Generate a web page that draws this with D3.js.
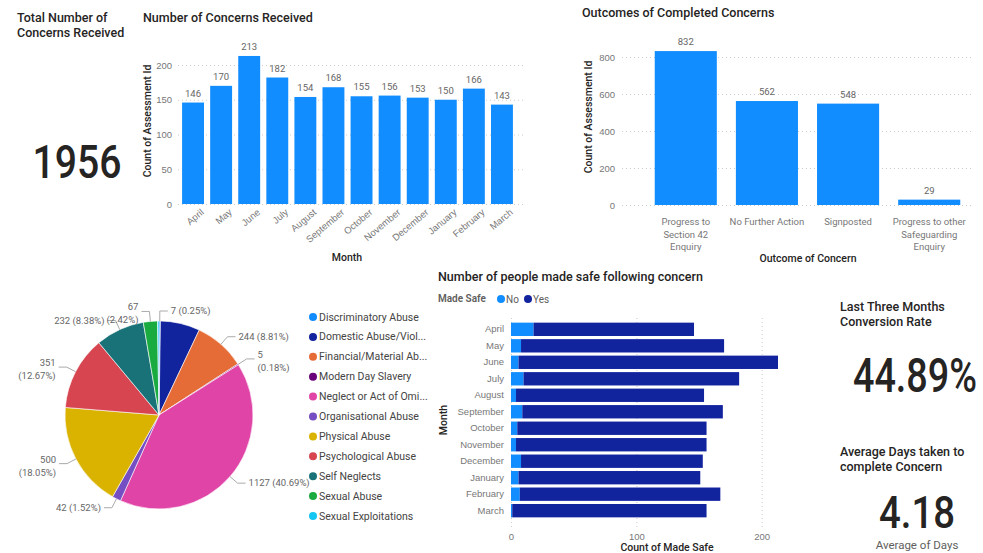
<!DOCTYPE html>
<html>
<head>
<meta charset="utf-8">
<script src="https://cdn.jsdelivr.net/npm/d3@7"></script>
<style>
  body { margin: 0; background: #fff; }
  svg { font-family: Roboto, "Open Sans", sans-serif; }
  .title { font-size: 12.5px; font-weight: 500; fill: #252423; }
  .tick text { fill: #777; font-size: 9.5px; }
  .axisTitle { font-size: 10.5px; font-weight: 500; fill: #252423; }
  .big { font-weight: 500; fill: #252423; }
</style>
</head>
<body>
<script>
// --- data ---
const months = ['April','May','June','July','August','September','October','November','December','January','February','March'];
const concerns = [146, 170, 213, 182, 154, 168, 155, 156, 153, 150, 166, 143];

const outcomes = ['Progress to Section 42 Enquiry', 'No Further Action', 'Signposted', 'Progress to other Safeguarding Enquiry'];
const outcomeLines = [['Progress to', 'Section 42', 'Enquiry'], ['No Further Action'], ['Signposted'], ['Progress to other', 'Safeguarding', 'Enquiry']];
const outcomeCounts = [832, 562, 548, 29];

const abuseTypes = ['Discriminatory Abuse','Domestic Abuse/Violence','Financial/Material Abuse','Modern Day Slavery','Neglect or Act of Omission','Organisational Abuse','Physical Abuse','Psychological Abuse','Self Neglects','Sexual Abuse','Sexual Exploitations'];
const abuseCounts = [7, 188, 244, 5, 1127, 42, 500, 351, 232, 67, 7];
const abuseColors = ['#118DFF','#12239E','#E66C37','#6B007B','#E044A7','#744EC2','#D9B300','#D64550','#197278','#1AAB40','#15C6F4'];
const abuseLabelShown = [true, false, true, true, true, true, true, true, true, true, false];

const safeNo  = [18, 8, 6, 10, 4, 9, 5, 4, 8, 6, 7, 1];
const safeYes = [128, 162, 207, 172, 150, 160, 151, 152, 145, 145, 160, 155];

const totalConcerns = '1956';
const conversionRate = '44.89%';
const avgDays = '4.18';

const svg = d3.select('body').append('svg').attr('width', 983).attr('height', 553);

// --- KPI cards ---
svg.append('text').attr('class', 'title').attr('x', 17).attr('y', 22).text('Total Number of');
svg.append('text').attr('class', 'title').attr('x', 17).attr('y', 37).text('Concerns Received');
svg.append('text').attr('class', 'big').attr('x', 77).attr('y', 178).attr('text-anchor', 'middle')
  .attr('textLength', 89).attr('lengthAdjust', 'spacingAndGlyphs')
  .style('font-size', '46px').text(totalConcerns);

svg.append('text').attr('class', 'title').attr('x', 840).attr('y', 311).text('Last Three Months');
svg.append('text').attr('class', 'title').attr('x', 840).attr('y', 326).text('Conversion Rate');
svg.append('text').attr('class', 'big').attr('x', 853).attr('y', 392)
  .attr('textLength', 124).attr('lengthAdjust', 'spacingAndGlyphs')
  .style('font-size', '48px').text(conversionRate);

svg.append('text').attr('class', 'title').attr('x', 840).attr('y', 456).text('Average Days taken to');
svg.append('text').attr('class', 'title').attr('x', 840).attr('y', 471).text('complete Concern');
svg.append('text').attr('class', 'big').attr('x', 917).attr('y', 528).attr('text-anchor', 'middle')
  .attr('textLength', 76).attr('lengthAdjust', 'spacingAndGlyphs')
  .style('font-size', '44px').text(avgDays);
svg.append('text').attr('x', 917).attr('y', 549).attr('text-anchor', 'middle')
  .style('font-size', '11.5px').style('fill', '#605E5C').text('Average of Days');

// --- Number of Concerns Received ---
svg.append('text').attr('class', 'title').attr('x', 143).attr('y', 22).text('Number of Concerns Received');

const x1 = d3.scaleBand().domain(months).range([179, 516]).paddingInner(0.22).paddingOuter(0.11);
const y1 = d3.scaleLinear().domain([0, 200]).range([204, 65]);

const g1y = svg.append('g').attr('transform', 'translate(178,0)')
  .call(d3.axisLeft(y1).tickValues([0, 50, 100, 150, 200]).tickSize(-345).tickPadding(6));
g1y.select('.domain').remove();
g1y.selectAll('.tick line').attr('stroke', '#ccc').attr('stroke-dasharray', '1,3');

svg.append('g').selectAll('rect').data(months).join('rect')
  .attr('x', d => x1(d)).attr('width', x1.bandwidth())
  .attr('y', (d, i) => y1(concerns[i])).attr('height', (d, i) => y1(0) - y1(concerns[i]))
  .attr('fill', '#118DFF');

svg.append('g').selectAll('text').data(months).join('text')
  .attr('x', d => x1(d) + x1.bandwidth() / 2).attr('y', (d, i) => y1(concerns[i]) - 6)
  .attr('text-anchor', 'middle').style('font-size', '9.5px').style('fill', '#666')
  .text((d, i) => concerns[i]);

const g1x = svg.append('g').attr('transform', 'translate(0,204)')
  .call(d3.axisBottom(x1).tickSize(0).tickPadding(6));
g1x.select('.domain').remove();
g1x.selectAll('text').attr('text-anchor', 'end')
  .attr('transform', 'rotate(-40)').attr('dx', '0.3em').attr('dy', '0.9em');

svg.append('text').attr('class', 'axisTitle').attr('x', 347).attr('y', 261).attr('text-anchor', 'middle').text('Month');
svg.append('text').attr('class', 'axisTitle').attr('text-anchor', 'middle')
  .attr('transform', 'translate(151,121) rotate(-90)').text('Count of Assessment Id');

// --- Outcomes of Completed Concerns ---
svg.append('text').attr('class', 'title').attr('x', 582).attr('y', 17).text('Outcomes of Completed Concerns');

const x2 = d3.scaleBand().domain(outcomes).range([645, 970]).paddingInner(0.235).paddingOuter(0.12);
const y2 = d3.scaleLinear().domain([0, 800]).range([205, 57]);

const g2y = svg.append('g').attr('transform', 'translate(622,0)')
  .call(d3.axisLeft(y2).tickValues([0, 200, 400, 600, 800]).tickSize(-350).tickPadding(7));
g2y.select('.domain').remove();
g2y.selectAll('.tick line').attr('stroke', '#ccc').attr('stroke-dasharray', '1,3');

svg.append('g').selectAll('rect').data(outcomes).join('rect')
  .attr('x', d => x2(d)).attr('width', x2.bandwidth())
  .attr('y', (d, i) => y2(outcomeCounts[i])).attr('height', (d, i) => y2(0) - y2(outcomeCounts[i]))
  .attr('fill', '#118DFF');

svg.append('g').selectAll('text').data(outcomes).join('text')
  .attr('x', d => x2(d) + x2.bandwidth() / 2).attr('y', (d, i) => y2(outcomeCounts[i]) - 6)
  .attr('text-anchor', 'middle').style('font-size', '9.5px').style('fill', '#666')
  .text((d, i) => outcomeCounts[i]);

outcomes.forEach((d, i) => {
  const t = svg.append('text').attr('x', x2(d) + x2.bandwidth() / 2).attr('y', 225)
    .attr('text-anchor', 'middle').style('font-size', '9.5px').style('fill', '#777');
  outcomeLines[i].forEach((line, j) => {
    t.append('tspan').attr('x', x2(d) + x2.bandwidth() / 2).attr('dy', j === 0 ? 0 : 12.5).text(line);
  });
});

svg.append('text').attr('class', 'axisTitle').attr('x', 808).attr('y', 262).attr('text-anchor', 'middle').text('Outcome of Concern');
svg.append('text').attr('class', 'axisTitle').attr('text-anchor', 'middle')
  .attr('transform', 'translate(592,117) rotate(-90)').text('Count of Assessment Id');

// --- Pie ---
const total = d3.sum(abuseCounts);
const cx = 159, cy = 415, R = 94;
const pie = d3.pie().sort(null).value(d => d.v);
const slices = pie(abuseTypes.map((t, i) => ({ t, v: abuseCounts[i], i })));
const arc = d3.arc().innerRadius(0).outerRadius(R);
const gp = svg.append('g').attr('transform', `translate(${cx},${cy})`);
gp.selectAll('path').data(slices).join('path')
  .attr('d', arc).attr('fill', d => abuseColors[d.data.i])
  .attr('stroke', '#fff').attr('stroke-width', 0.6);

const twoLine = new Set(['Modern Day Slavery', 'Physical Abuse', 'Psychological Abuse', 'Sexual Abuse']);
slices.filter(d => abuseLabelShown[d.data.i]).forEach(d => {
  let a = (d.startAngle + d.endAngle) / 2;
  const right = Math.sin(a) >= 0;
  const p1 = [Math.sin(a) * R, -Math.cos(a) * R];
  const p2 = [Math.sin(a) * (R + 10), -Math.cos(a) * (R + 10)];
  const p3 = [p2[0] + (right ? 8 : -8), p2[1]];
  gp.append('polyline').attr('points', [p1, p2, p3].map(p => p.join(',')).join(' '))
    .attr('fill', 'none').attr('stroke', '#aaa').attr('stroke-width', 1);
  const pct = (d.data.v / total * 100).toFixed(2) + '%';
  const t = gp.append('text').attr('x', p3[0] + (right ? 3 : -3)).attr('y', p3[1] + 3)
    .attr('text-anchor', right ? 'start' : 'end').style('font-size', '9.5px').style('fill', '#666');
  if (twoLine.has(d.data.t)) {
    t.attr('y', p3[1] - 1);
    t.append('tspan').attr('x', p3[0] + (right ? 3 : -3)).text(d.data.v);
    t.append('tspan').attr('x', p3[0] + (right ? 3 : -3)).attr('dy', 13).text(`(${pct})`);
  } else {
    t.text(`${d.data.v} (${pct})`);
  }
});

// legend
const lg = svg.append('g').selectAll('g').data(abuseTypes).join('g')
  .attr('transform', (d, i) => `translate(313,${317 + i * 19.9})`);
lg.append('circle').attr('r', 4).attr('fill', (d, i) => abuseColors[i]);
lg.append('text').attr('x', 6).attr('y', 3.5).style('font-size', '10.5px').style('fill', '#444')
  .text(d => d)
  .each(function(d) {
    const el = d3.select(this);
    let s = d;
    while (this.getComputedTextLength() > 112 && s.length > 1) {
      s = s.slice(0, -1);
      el.text(s + '...');
    }
  });

// --- Made safe stacked bar ---
svg.append('text').attr('class', 'title').attr('x', 438).attr('y', 281).text('Number of people made safe following concern');
svg.append('text').attr('x', 438).attr('y', 302).style('font-size', '10px').style('font-weight', 600).style('fill', '#605E5C').text('Made Safe');
const legSafe = [['No', '#118DFF', 501], ['Yes', '#12239E', 528]];
legSafe.forEach(([lab, col, lx]) => {
  svg.append('circle').attr('cx', lx).attr('cy', 299).attr('r', 4).attr('fill', col);
  svg.append('text').attr('x', lx + 5).attr('y', 302.5).style('font-size', '10px').style('fill', '#605E5C').text(lab);
});

const x3 = d3.scaleLinear().domain([0, 200]).range([511, 761.7]);
const y3 = d3.scaleBand().domain(months).range([321, 519]).paddingInner(0.19).paddingOuter(0.1);

const g3x = svg.append('g').attr('transform', 'translate(0,527)')
  .call(d3.axisBottom(x3).tickValues([0, 100, 200]).tickSize(-210).tickPadding(6));
g3x.select('.domain').remove();
g3x.selectAll('.tick line').attr('stroke', '#ccc').attr('stroke-dasharray', '1,3');

const stackData = months.map((m, i) => ({ m, No: safeNo[i], Yes: safeYes[i] }));
const series = d3.stack().keys(['No', 'Yes'])(stackData);
const stackCol = { No: '#118DFF', Yes: '#12239E' };
svg.append('g').selectAll('g').data(series).join('g').attr('fill', s => stackCol[s.key])
  .selectAll('rect').data(s => s).join('rect')
  .attr('x', d => x3(d[0])).attr('width', d => x3(d[1]) - x3(d[0]))
  .attr('y', d => y3(d.data.m)).attr('height', y3.bandwidth());

const g3y = svg.append('g').attr('transform', 'translate(507,0)')
  .call(d3.axisLeft(y3).tickSize(0).tickPadding(3));
g3y.select('.domain').remove();
g3y.selectAll('text').style('font-size', '9.5px');

svg.append('text').attr('class', 'axisTitle').attr('x', 667).attr('y', 551).attr('text-anchor', 'middle').text('Count of Made Safe');
svg.append('text').attr('class', 'axisTitle').attr('text-anchor', 'middle')
  .attr('transform', 'translate(447,420) rotate(-90)').text('Month');
</script>
</body>
</html>
